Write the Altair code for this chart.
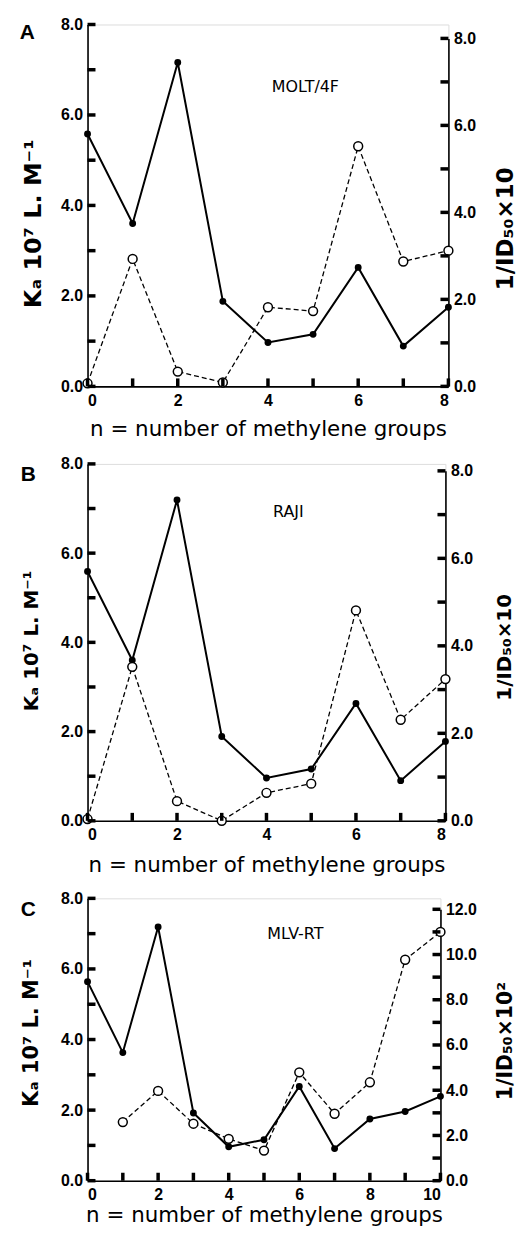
import altair as alt
import pandas as pd

# ---------------- data ----------------
n_a = [0, 1, 2, 3, 4, 5, 6, 7, 8]
ka_a = [5.58, 3.60, 7.16, 1.88, 0.97, 1.15, 2.63, 0.89, 1.75]
id_a = [0.07, 2.93, 0.34, 0.09, 1.82, 1.73, 5.52, 2.87, 3.12]

n_b = [0, 1, 2, 3, 4, 5, 6, 7, 8]
ka_b = [5.59, 3.60, 7.19, 1.89, 0.96, 1.16, 2.63, 0.90, 1.78]
id_b = [0.04, 3.52, 0.45, 0.00, 0.64, 0.85, 4.81, 2.31, 3.24]

n_c = [0, 1, 2, 3, 4, 5, 6, 7, 8, 9, 10]
ka_c = [5.64, 3.63, 7.19, 1.92, 0.96, 1.16, 2.67, 0.91, 1.75, 1.96, 2.39]
n_c_id = [1, 2, 3, 4, 5, 6, 7, 8, 9, 10]
id_c = [2.59, 3.97, 2.52, 1.85, 1.33, 4.79, 2.96, 4.35, 9.77, 11.00]

# tick positions (every unit) and labelled values (every 2 units)
ticks_0_8 = [0, 1, 2, 3, 4, 5, 6, 7, 8]
ticks_0_10 = [0, 1, 2, 3, 4, 5, 6, 7, 8, 9, 10]
ticks_0_12 = [0, 1, 2, 3, 4, 5, 6, 7, 8, 9, 10, 11, 12]
labels_0_8 = [0, 2, 4, 6, 8]
labels_0_10 = [0, 2, 4, 6, 8, 10]
labels_0_12 = [0, 2, 4, 6, 8, 10, 12]

x_title = "n = number of methylene groups"
ka_title = "K\u2090 10\u2077 L. M\u207b\u00b9"
id_title_10 = "1/ID\u2085\u2080\u00d710"
id_title_100 = "1/ID\u2085\u2080\u00d710\u00b2"

LAB = "Liberation Sans"
TIT = "DejaVu Sans"
TICK = 8        # inward tick length, px
TICK_W = 3.5    # tick thickness, px


def panel(p):
    W, H = p["w"], p["h"]
    xmax = p["xmax"]
    idmax = p["idmax"]
    ka_df = pd.DataFrame({"n": p["n_ka"], "v": p["ka"]})
    id_df = pd.DataFrame({"n": p["n_id"], "v": p["idv"]})
    xt_df = pd.DataFrame({"n": p["xticks"], "v": [0] * len(p["xticks"])})
    kt_df = pd.DataFrame({"n": [0] * len(ticks_0_8), "v": ticks_0_8})
    it_df = pd.DataFrame({"n": [xmax] * len(p["idticks"]), "v": p["idticks"]})

    xs = alt.Scale(domain=[0, xmax], nice=False, zero=False)
    ka_scale = alt.Scale(domain=[0, 8], nice=False, zero=False)
    id_scale = alt.Scale(domain=[0, idmax], range=[H, p["idtop"]],
                         nice=False, zero=False)

    x_main = alt.X("n:Q", scale=xs, axis=alt.Axis(
        orient="bottom", values=p["xlabels"], format="d", ticks=False, tickSize=0,
        labelPadding=6, labelFont=LAB, labelFontSize=16, labelFontWeight="bold",
        labelColor="black", domainColor="black", domainWidth=1.6, grid=False,
        title=x_title, titleFont=TIT, titleFontSize=21.5, titleFontWeight="normal",
        titleColor="black", titleBaseline="top", titleY=p["xty"]))
    x_none = alt.X("n:Q", scale=xs, axis=None)

    y_ka_main = alt.Y("v:Q", scale=ka_scale, axis=alt.Axis(
        orient="left", values=labels_0_8, format=".1f", ticks=False, tickSize=0,
        labelPadding=5, labelFont=LAB, labelFontSize=16, labelFontWeight="bold",
        labelColor="black", domainColor="black", domainWidth=1.6, grid=False,
        title=ka_title, titleFont=TIT, titleFontSize=p["kafs"], titleFontWeight="bold",
        titleColor="black", titleAngle=270, titleAlign="center", titleBaseline="middle",
        titleX=p["katx"], titleY=p["katy"]))
    y_ka_none = alt.Y("v:Q", scale=ka_scale, axis=None)

    y_id_main = alt.Y("v:Q", scale=id_scale, axis=alt.Axis(
        orient="right", values=p["idlabels"], format=".1f",
        ticks=False, tickSize=0, labelPadding=5, labelFont=LAB, labelFontSize=16,
        labelFontWeight="bold", labelColor="black", domainColor="black",
        domainWidth=1.6, grid=False,
        title=p["idtitle"], titleFont=TIT, titleFontSize=p["idfs"], titleFontWeight="bold",
        titleColor="black", titleAngle=270, titleAlign="center", titleBaseline="middle",
        titleX=p["idtx"], titleY=p["idty"]))
    y_id_none = alt.Y("v:Q", scale=id_scale, axis=None)

    # inward tick marks along the bottom, left and right axes
    xtick = alt.Chart(xt_df).mark_tick(orient="vertical", size=TICK, thickness=TICK_W,
                                       color="#000000", opacity=1, yOffset=-TICK / 2).encode(
        x=x_none, y=y_ka_none)
    ltick = alt.Chart(kt_df).mark_tick(orient="horizontal", size=TICK, thickness=TICK_W,
                                       color="#000000", opacity=1, xOffset=TICK / 2).encode(
        x=x_none, y=y_ka_none)
    rtick = alt.Chart(it_df).mark_tick(orient="horizontal", size=TICK, thickness=TICK_W,
                                       color="#000000", opacity=1, xOffset=-TICK / 2).encode(
        x=x_none, y=y_id_none)

    dashed = alt.Chart(id_df).mark_line(color="black", strokeWidth=1.3,
                                        strokeDash=[5, 3]).encode(x=x_main, y=y_id_main)
    solid = alt.Chart(ka_df).mark_line(color="black", strokeWidth=2).encode(
        x=x_none, y=y_ka_main)
    filled = alt.Chart(ka_df).mark_point(shape="circle", filled=True, color="black",
                                         size=48, opacity=1).encode(x=x_none, y=y_ka_none)
    opened = alt.Chart(id_df).mark_point(shape="circle", filled=False, fill="white",
                                         stroke="black", strokeWidth=1.5, size=80,
                                         opacity=1, fillOpacity=1).encode(x=x_none, y=y_id_none)
    letter = alt.Chart().mark_text(text=p["letter"], font=LAB, fontSize=21,
                                   fontWeight="bold", color="black", align="center",
                                   baseline="middle").encode(
        x=alt.XDatum(p["lx"], axis=None, scale=xs),
        y=alt.YDatum(p["ly"], axis=None, scale=ka_scale))
    name = alt.Chart().mark_text(text=p["name"], font=TIT, fontSize=16,
                                 color="black", align="center",
                                 baseline="middle").encode(
        x=alt.XDatum(p["nx"], axis=None, scale=xs),
        y=alt.YDatum(p["ny"], axis=None, scale=ka_scale))

    return alt.layer(dashed, solid, filled, opened, xtick, ltick, rtick, letter, name
                     ).resolve_scale(y="independent").resolve_axis(
        y="independent", x="independent").properties(width=W, height=H)


pa = dict(w=363, h=364, xmax=8, xticks=ticks_0_8, xlabels=labels_0_8,
          n_ka=n_a, ka=ka_a, n_id=n_a, idv=id_a, idmax=8, idtop=14,
          idticks=ticks_0_8, idlabels=labels_0_8,
          idtitle=id_title_10, kafs=24, katx=-54.7, katy=200, idfs=23, idtx=57, idty=205,
          xty=32, letter="A", lx=-1.333, ly=7.81, name="MOLT/4F", nx=4.83, ny=6.62)
pb = dict(w=360, h=359, xmax=8, xticks=ticks_0_8, xlabels=labels_0_8,
          n_ka=n_b, ka=ka_b, n_id=n_b, idv=id_b, idmax=8, idtop=7,
          idticks=ticks_0_8, idlabels=labels_0_8,
          idtitle=id_title_10, kafs=20, katx=-56.4, katy=177.5, idfs=20, idtx=59, idty=184,
          xty=34, letter="B", lx=-1.322, ly=7.75, name="RAJI", nx=4.49, ny=6.93)
pc = dict(w=355, h=284, xmax=10, xticks=ticks_0_10, xlabels=labels_0_10,
          n_ka=n_c, ka=ka_c, n_id=n_c_id, idv=id_c, idmax=12, idtop=11,
          idticks=ticks_0_12, idlabels=labels_0_12,
          idtitle=id_title_100, kafs=21, katx=-56.3, katy=135, idfs=20.5, idtx=65, idty=143,
          xty=24, letter="C", lx=-1.676, ly=7.68, name="MLV-RT", nx=5.89, ny=7.0)

chart = alt.vconcat(panel(pa), panel(pb), panel(pc), spacing=78,
                    bounds="flush").properties(
    padding={"left": 11, "top": 4, "right": 0, "bottom": 0}
).configure_view(stroke=None).configure(background="white")

chart.save("out.html", embed_options={"renderer": "svg", "actions": False})
